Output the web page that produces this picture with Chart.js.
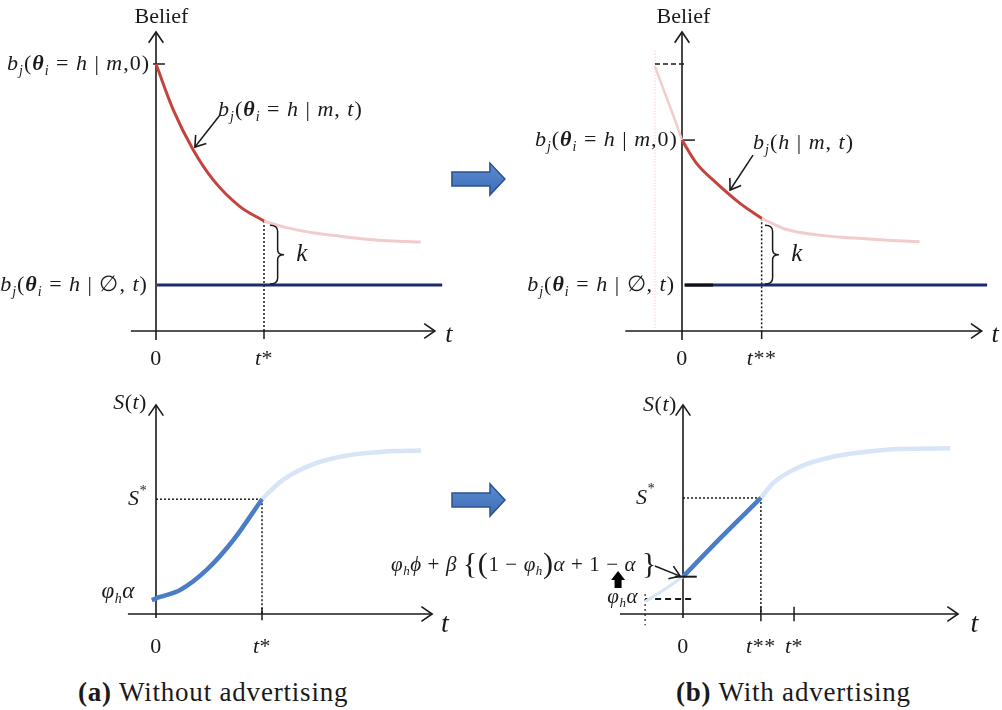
<!DOCTYPE html>
<html>
<head>
<meta charset="utf-8">
<script src="https://cdn.jsdelivr.net/npm/chart.js@4.4.1/dist/chart.umd.min.js"></script>
<style>
  html, body { margin: 0; padding: 0; background: #fff; }
  body { width: 1002px; height: 710px; position: relative; overflow: hidden; }
  canvas { position: absolute; }
  .cap { position: absolute; font-family: "Liberation Serif", "DejaVu Serif", serif; font-size: 27px; letter-spacing: 0.8px; line-height: 34px; color: #1a1a1a; white-space: nowrap; }
</style>
</head>
<body>
<canvas id="p1"></canvas>
<canvas id="p3"></canvas>
<canvas id="p2"></canvas>
<canvas id="p4"></canvas>
<div class="cap" style="left:78px;top:675px"><b>(a)</b> Without advertising</div>
<div class="cap" style="left:676px;top:675px"><b>(b)</b> With advertising</div>
<script>
const FONT = '"Liberation Serif", "DejaVu Serif", serif';

// ── Data: belief curves (top row) ────────────────────────────
const beliefTimeA     = [0, 0.64, 1.38, 2.12, 3.11, 4.0];
const beliefMsgA      = [10, 8.28, 6.78, 5.66, 4.66, 4.12];
const beliefTailTimeA = [4.0, 4.8, 5.8, 6.8, 7.8, 8.8, 9.8];
const beliefTailA     = [4.12, 3.88, 3.68, 3.55, 3.44, 3.37, 3.33];
const noMsgTimeA      = [0.04, 10.6];
const noMsgA          = [1.72, 1.72];

const beliefHeadTimeB = [-1.0, -0.63, -0.26, 0];
const beliefHeadB     = [9.9, 8.9, 7.9, 7.15];
const beliefTimeB     = [0, 0.54, 1.29, 2.15, 2.95];
const beliefMsgB      = [7.15, 6.28, 5.53, 4.78, 4.22];
const beliefTailTimeB = [2.95, 3.88, 5.0, 6.4, 7.6, 8.8];
const beliefTailB     = [4.22, 3.8, 3.6, 3.48, 3.4, 3.34];
const noMsgTimeB      = [0.1, 11.3];
const noMsgB          = [1.72, 1.72];

// ── Data: sales curves (bottom row) ──────────────────────────
const sTimeA     = [-0.16, 0.15, 0.91, 1.91, 2.92, 4.0];
const sValA      = [0.68, 0.83, 1.17, 2.15, 3.61, 5.6];
const sTailTimeA = [4.0, 4.79, 6.06, 7.32, 8.57, 10.0];
const sTailA     = [5.6, 6.54, 7.37, 7.76, 7.92, 7.97];

const sHeadTimeB = [-1.43, -0.7, 0];
const sHeadB     = [0.6, 1.2, 1.82];
const sTimeB     = [0, 1.4, 2.94];
const sValB      = [1.82, 3.69, 5.66];
const sTailTimeB = [2.94, 3.4, 4.42, 5.66, 6.93, 8.19, 10.08];
const sTailB     = [5.66, 6.39, 7.19, 7.67, 7.92, 8.05, 8.08];

// ── Key levels & tick labels ─────────────────────────────────
const beliefStartA = 10;     // b_j(θ=h|m,0) without ads
const beliefStartB = 7.15;   // with ads
const beliefTopB   = 10;     // dashed old start level
const tickTimesA   = [0, 4];       const tickLabelsA = ['0', 't*'];
const tickTimesB   = [0, 2.95];    const tickLabelsB = ['0', 't**'];
const sStarA = 5.6, sStarB = 5.66;
const phiAlpha = 0.73, jumpLevel = 1.82, adStart = -1.43;
const sTickTimesA = [0, 4];            const sTickLabelsA = ['0', 't*'];
const sTickTimesB = [0, 2.94, 4.19];   const sTickLabelsB = ['0', 't**', 't*'];

// ── Colours ──────────────────────────────────────────────────
const RED = '#c4433d', RED_FADE = '#f2cccc', NAVY = '#1b2b6e';
const BLUE = '#4a7dc4', BLUE_FADE = '#d8e5f6', INK = '#1a1a1a';

const pts = (xs, ys) => xs.map((x, i) => ({ x, y: ys[i] }));
const curve = (xs, ys, color, w) => ({
  data: pts(xs, ys), showLine: true, borderColor: color, borderWidth: w,
  pointRadius: 0, cubicInterpolationMode: 'monotone', fill: false,
});

// ── Drawing helpers ──────────────────────────────────────────
function runFont(kind, size) {
  if (kind === 'i') return `italic ${size}px ${FONT}`;
  if (kind === 'b') return `italic bold ${size}px ${FONT}`;
  if (kind === 'sub' || kind === 'sup') return `italic ${Math.round(size * 0.62)}px ${FONT}`;
  if (kind === 'big') return `${Math.round(size * 1.45)}px ${FONT}`;
  return `${size}px ${FONT}`;
}
function drawMath(ctx, runs, x, y, size, align, spacing = 0) {
  ctx.save();
  ctx.textBaseline = 'middle';
  ctx.fillStyle = INK;
  ctx.letterSpacing = spacing + 'px';
  let w = 0;
  runs.forEach(([t, k]) => { ctx.font = runFont(k, size); w += ctx.measureText(t).width; });
  let cx = align === 'right' ? x - w : align === 'center' ? x - w / 2 : x;
  runs.forEach(([t, k]) => {
    ctx.font = runFont(k, size);
    const dy = k === 'sub' ? size * 0.32 : k === 'sup' ? -size * 0.38 : 0;
    ctx.fillText(t, cx, y + dy);
    cx += ctx.measureText(t).width;
  });
  ctx.restore();
}
function seg(ctx, x1, y1, x2, y2, lw = 1.5, dash = [], color = INK) {
  ctx.save();
  ctx.strokeStyle = color; ctx.lineWidth = lw; ctx.setLineDash(dash);
  ctx.beginPath(); ctx.moveTo(x1, y1); ctx.lineTo(x2, y2); ctx.stroke();
  ctx.restore();
}
function openHead(ctx, x, y, ang, len = 13) {
  ctx.save();
  ctx.strokeStyle = INK; ctx.lineWidth = 1.6;
  ctx.beginPath();
  ctx.moveTo(x - len * Math.cos(ang - 0.6), y - len * Math.sin(ang - 0.6));
  ctx.lineTo(x, y);
  ctx.lineTo(x - len * Math.cos(ang + 0.6), y - len * Math.sin(ang + 0.6));
  ctx.stroke();
  ctx.restore();
}
function pointer(ctx, x1, y1, x2, y2) {
  seg(ctx, x1, y1, x2, y2, 1.5);
  openHead(ctx, x2, y2, Math.atan2(y2 - y1, x2 - x1), 12);
}
function brace(ctx, x, y1, y2, w) {
  const ym = (y1 + y2) / 2, xs = x + w * 0.55;
  ctx.save();
  ctx.strokeStyle = INK; ctx.lineWidth = 1.5;
  ctx.beginPath();
  ctx.moveTo(x, y1);
  ctx.quadraticCurveTo(xs, y1, xs, y1 + 6);
  ctx.lineTo(xs, ym - 5);
  ctx.quadraticCurveTo(xs, ym, x + w, ym);
  ctx.quadraticCurveTo(xs, ym, xs, ym + 5);
  ctx.lineTo(xs, y2 - 6);
  ctx.quadraticCurveTo(xs, y2, x, y2);
  ctx.stroke();
  ctx.restore();
}
function blockArrow(ctx, x, y) {
  ctx.save();
  const g = ctx.createLinearGradient(0, y - 16, 0, y + 16);
  g.addColorStop(0, '#5b8bd0'); g.addColorStop(1, '#3d6db5');
  ctx.fillStyle = g; ctx.strokeStyle = '#2c5192'; ctx.lineWidth = 1.5;
  ctx.beginPath();
  ctx.moveTo(x, y - 7); ctx.lineTo(x + 38, y - 7); ctx.lineTo(x + 38, y - 16);
  ctx.lineTo(x + 53, y); ctx.lineTo(x + 38, y + 16); ctx.lineTo(x + 38, y + 7);
  ctx.lineTo(x, y + 7); ctx.closePath();
  ctx.fill(); ctx.stroke();
  ctx.restore();
}
function axes(ctx, X, Y, x0, x1, y0, y1) {
  seg(ctx, X(x0), Y(0), X(x1), Y(0), 1.6);
  openHead(ctx, X(x1), Y(0), 0);
  seg(ctx, X(0), Y(y0), X(0), Y(y1), 1.6);
  openHead(ctx, X(0), Y(y1), -Math.PI / 2);
}

const B_M0  = [['b','i'],['j','sub'],['(','n'],['θ','b'],['i','sub'],[' = ','n'],['h','i'],[' | ','n'],['m','i'],[',0)','n']];
const B_MT  = [['b','i'],['j','sub'],['(','n'],['θ','b'],['i','sub'],[' = ','n'],['h','i'],[' | ','n'],['m','i'],[', ','n'],['t','i'],[')','n']];
const B_HMT = [['b','i'],['j','sub'],['(','n'],['h','i'],[' | ','n'],['m','i'],[', ','n'],['t','i'],[')','n']];
const B_NT  = [['b','i'],['j','sub'],['(','n'],['θ','b'],['i','sub'],[' = ','n'],['h','i'],[' | ','n'],['∅','n'],[', ','n'],['t','i'],[')','n']];
const S_T   = [['S','i'],['(','n'],['t','i'],[')','n']];
const S_STAR = [['S','i'],['*','sup']];
const PHI_A = [['φ','i'],['h','sub'],['α','i']];
const JUMP  = [['φ','i'],['h','sub'],['ϕ','i'],[' + ','n'],['β','i'],[' ','n'],['{','big'],['(','big'],['1 − ','n'],['φ','i'],['h','sub'],[')','big'],['α','i'],[' + 1 − ','n'],['α','i'],[' ','n'],['}','big']];
const tickRuns = s => s === '0' ? [['0','n']] : [['t','i'],[s.slice(1),'n']];

// ── Panel factory ────────────────────────────────────────────
function makePanel(id, rect, origin, scale, datasets, deco) {
  const cv = document.getElementById(id);
  cv.width = rect.w; cv.height = rect.h;
  cv.style.left = rect.left + 'px'; cv.style.top = rect.top + 'px';
  const [ox, oy] = origin, [sx, sy] = scale;
  return new Chart(cv, {
    type: 'scatter',
    data: { datasets },
    options: {
      responsive: false, animation: false, events: [],
      layout: { padding: 0 },
      plugins: { legend: { display: false }, tooltip: { enabled: false } },
      scales: {
        x: { type: 'linear', display: false, min: (rect.left - ox) / sx, max: (rect.left + rect.w - ox) / sx },
        y: { type: 'linear', display: false, min: (oy - rect.top - rect.h) / sy, max: (oy - rect.top) / sy },
      },
    },
    plugins: [{
      id: 'deco',
      beforeDatasetsDraw: c => deco(c.ctx, v => c.scales.x.getPixelForValue(v), v => c.scales.y.getPixelForValue(v), 'under'),
      afterDatasetsDraw:  c => deco(c.ctx, v => c.scales.x.getPixelForValue(v), v => c.scales.y.getPixelForValue(v), 'over'),
    }],
  });
}

// ── (a) top: belief without advertising ─────────────────────
makePanel('p1', { left: 0, top: 0, w: 520, h: 370 }, [156, 331], [27, 26.7], [
  curve(beliefTimeA, beliefMsgA, RED, 3),
  curve(noMsgTimeA, noMsgA, NAVY, 3),
  curve(beliefTailTimeA, beliefTailA, RED_FADE, 3),
], (ctx, X, Y, phase) => {
  if (phase === 'under') {
    axes(ctx, X, Y, -0.93, 10.33, -0.34, 11.2);
    seg(ctx, X(tickTimesA[1]), Y(beliefMsgA[beliefMsgA.length - 1]), X(tickTimesA[1]), Y(0), 1.5, [2, 2]);
    seg(ctx, X(tickTimesA[1]), Y(0), X(tickTimesA[1]), Y(-0.3), 1.5);
    seg(ctx, X(-0.11), Y(beliefStartA), X(0.33), Y(beliefStartA), 1.5);
    return;
  }
  drawMath(ctx, [['Belief','n']], X(0.2), Y(11.76), 22, 'center');
  drawMath(ctx, B_M0, X(-0.22), Y(beliefStartA), 22, 'right', 1);
  drawMath(ctx, B_MT, X(2.3), Y(8.28), 22, 'left', 1);
  pointer(ctx, X(2.37), Y(8.09), X(1.44), Y(6.89));
  drawMath(ctx, B_NT, X(-0.3), Y(noMsgA[0]), 22, 'right', 1);
  brace(ctx, X(4.22), Y(3.96), Y(1.76), 14);
  drawMath(ctx, [['k','i']], X(5.4), Y(2.85), 25, 'center');
  drawMath(ctx, [['t','i']], X(10.85), Y(-0.15), 26, 'center');
  tickTimesA.forEach((t, i) => drawMath(ctx, tickRuns(tickLabelsA[i]), X(t), Y(-1.05), 22, 'center', 0.5));
  blockArrow(ctx, X(10.96), Y(5.69));
});

// ── (b) top: belief with advertising ────────────────────────
makePanel('p2', { left: 520, top: 0, w: 482, h: 370 }, [682, 331], [27, 26.7], [
  curve(beliefTimeB, beliefMsgB, RED, 3),
  curve(noMsgTimeB, noMsgB, NAVY, 3),
  curve(beliefHeadTimeB, beliefHeadB, RED_FADE, 2.5),
  curve(beliefTailTimeB, beliefTailB, RED_FADE, 3),
], (ctx, X, Y, phase) => {
  if (phase === 'under') {
    axes(ctx, X, Y, -2.1, 11.1, -0.34, 11.2);
    seg(ctx, X(beliefHeadTimeB[0]), Y(10.5), X(beliefHeadTimeB[0]), Y(0.1), 1, [1, 2], '#f0b8b8');
    seg(ctx, X(beliefHeadTimeB[0]), Y(beliefTopB), X(0.1), Y(beliefTopB), 1.6, [5, 3]);
    seg(ctx, X(tickTimesB[1]), Y(beliefMsgB[beliefMsgB.length - 1]), X(tickTimesB[1]), Y(0), 1.5, [2, 2]);
    seg(ctx, X(tickTimesB[1]), Y(0), X(tickTimesB[1]), Y(-0.3), 1.5);
    seg(ctx, X(0), Y(beliefStartB), X(0.48), Y(beliefStartB), 1.5);
    return;
  }
  seg(ctx, X(0.1), Y(noMsgB[0]), X(1.15), Y(noMsgB[0]), 3, [], '#111');
  drawMath(ctx, [['Belief','n']], X(0.05), Y(11.76), 22, 'center');
  drawMath(ctx, B_M0, X(-0.15), Y(beliefStartB), 22, 'right', 1);
  drawMath(ctx, B_HMT, X(2.63), Y(7.04), 22, 'left', 1);
  pointer(ctx, X(2.63), Y(6.59), X(1.78), Y(5.28));
  drawMath(ctx, B_NT, X(-0.26), Y(noMsgB[0]), 22, 'right', 1);
  brace(ctx, X(3.07), Y(3.96), Y(1.76), 14);
  drawMath(ctx, [['k','i']], X(4.25), Y(2.85), 25, 'center');
  drawMath(ctx, [['t','i']], X(11.6), Y(-0.15), 26, 'center');
  tickTimesB.forEach((t, i) => drawMath(ctx, tickRuns(tickLabelsB[i]), X(t), Y(-1.05), 22, 'center', 0.5));
});

// ── (a) bottom: sales without advertising ───────────────────
makePanel('p3', { left: 0, top: 370, w: 520, h: 300 }, [156, 614], [26.5, 20.5], [
  curve(sTimeA, sValA, BLUE, 4.5),
  curve(sTailTimeA, sTailA, BLUE_FADE, 4.5),
], (ctx, X, Y, phase) => {
  if (phase === 'under') {
    axes(ctx, X, Y, -1.06, 10.42, -0.2, 10.2);
    seg(ctx, X(0), Y(sStarA), X(sTickTimesA[1]), Y(sStarA), 1.5, [2, 2]);
    seg(ctx, X(sTickTimesA[1]), Y(sStarA), X(sTickTimesA[1]), Y(0), 1.5, [2, 2]);
    seg(ctx, X(sTickTimesA[1]), Y(0.3), X(sTickTimesA[1]), Y(-0.3), 1.5);
    return;
  }
  drawMath(ctx, S_T, X(-0.98), Y(10.29), 22, 'center', 0.5);
  drawMath(ctx, S_STAR, X(-0.72), Y(sStarA), 22, 'center');
  drawMath(ctx, PHI_A, X(-1.43), Y(1.07), 23, 'center', 0.5);
  drawMath(ctx, [['t','i']], X(10.9), Y(-0.54), 28, 'center');
  sTickTimesA.forEach((t, i) => drawMath(ctx, tickRuns(sTickLabelsA[i]), X(t), Y(-1.62), 22, 'center', 0.5));
  blockArrow(ctx, X(11.17), Y(5.56));
});

// ── (b) bottom: sales with advertising ──────────────────────
makePanel('p4', { left: 380, top: 370, w: 622, h: 300 }, [683, 614], [26.5, 20.5], [
  curve(sTimeB, sValB, BLUE, 4.5),
  curve(sHeadTimeB, sHeadB, BLUE_FADE, 3),
  curve(sTailTimeB, sTailB, BLUE_FADE, 4.5),
], (ctx, X, Y, phase) => {
  if (phase === 'under') {
    axes(ctx, X, Y, -2.38, 10.38, -0.2, 10.2);
    seg(ctx, X(0), Y(sStarB), X(sTickTimesB[1]), Y(sStarB), 1.5, [2, 2]);
    seg(ctx, X(sTickTimesB[1]), Y(sStarB), X(sTickTimesB[1]), Y(0), 1.5, [2, 2]);
    sTickTimesB.slice(1).forEach(t => seg(ctx, X(t), Y(0.35), X(t), Y(-0.35), 1.5));
    seg(ctx, X(adStart), Y(phiAlpha), X(0.34), Y(phiAlpha), 2, [6, 4]);
    seg(ctx, X(adStart), Y(phiAlpha + 0.25), X(adStart), Y(-0.55), 1.2, [2, 3]);
    return;
  }
  seg(ctx, X(-0.3), Y(jumpLevel), X(0.52), Y(jumpLevel), 2);
  drawMath(ctx, S_T, X(-0.87), Y(10.2), 22, 'center', 0.5);
  drawMath(ctx, S_STAR, X(-1.43), Y(sStarB), 22, 'center');
  drawMath(ctx, JUMP, X(-0.98), Y(2.39), 21, 'right', 0.6);
  pointer(ctx, X(-1.06), Y(2.34), X(-0.11), Y(1.85));
  // thick up arrow between the two levels
  const ax = X(-2.45), top = Y(2.1), bot = Y(1.27);
  ctx.save();
  ctx.fillStyle = '#000';
  ctx.beginPath();
  ctx.moveTo(ax, top); ctx.lineTo(ax + 7, top + 9); ctx.lineTo(ax + 3.5, top + 9);
  ctx.lineTo(ax + 3.5, bot); ctx.lineTo(ax - 3.5, bot); ctx.lineTo(ax - 3.5, top + 9);
  ctx.lineTo(ax - 7, top + 9); ctx.closePath(); ctx.fill();
  ctx.restore();
  drawMath(ctx, PHI_A, X(-1.7), Y(0.83), 21, 'right', 0.5);
  drawMath(ctx, [['t','i']], X(11.0), Y(-0.54), 28, 'center');
  sTickTimesB.forEach((t, i) => drawMath(ctx, tickRuns(sTickLabelsB[i]), X(t), Y(-1.62), 22, 'center', 0.5));
});
</script>
</body>
</html>
